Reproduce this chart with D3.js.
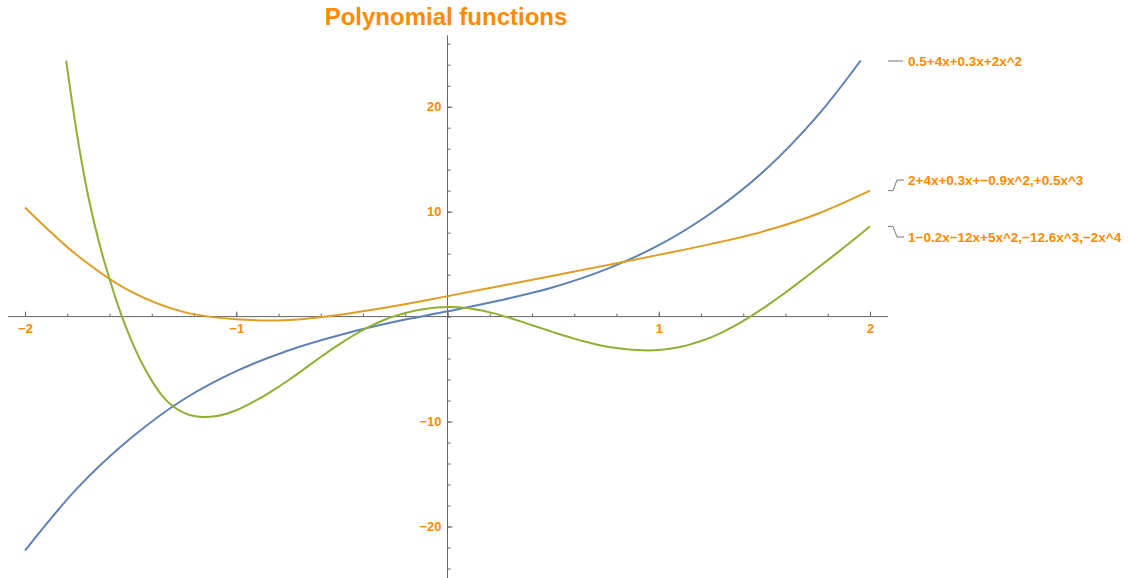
<!DOCTYPE html>
<html>
<head>
<meta charset="utf-8">
<script src="https://cdn.jsdelivr.net/npm/d3@7"></script>
<style>
  body { margin: 0; background: #fff; }
  text { font-family: "Liberation Sans", Arial, sans-serif; font-weight: bold; fill: #ff8a00; }
</style>
</head>
<body>
<svg width="1129" height="578"></svg>
<script>
// values
const blueX = [-2, -1.75, -1.5, -1.25, -1, -0.75, -0.5, -0.25, 0, 0.25, 0.5, 0.75, 1, 1.25, 1.5, 1.75, 1.956];
const blueY = [-22.3, -16.3, -11.6, -7.9, -5.2, -3.2, -1.7, -0.5, 0.5, 1.55, 2.8, 4.5, 6.8, 9.9, 13.9, 19.1, 24.4];

const orangeX = [-2, -1.75, -1.5, -1.25, -1, -0.75, -0.5, -0.25, 0, 0.25, 0.5, 0.75, 1, 1.25, 1.5, 1.75, 2];
const orangeY = [10.4, 5.8, 2.4, 0.45, -0.26, -0.32, 0.2, 1.0, 1.95, 2.92, 3.9, 4.88, 5.88, 6.93, 8.15, 9.78, 12.0];

const greenX = [-1.805, -1.75, -1.7, -1.65, -1.6, -1.55, -1.5, -1.45, -1.4, -1.35, -1.3, -1.25, -1.2, -1.15, -1.1, -1.05,
                -1.0, -0.95, -0.9, -0.85, -0.8, -0.75, -0.7, -0.65, -0.6, -0.55, -0.5, -0.45, -0.4, -0.35, -0.3, -0.25,
                -0.2, -0.15, -0.1, -0.05, 0, 0.05, 0.1, 0.15, 0.2, 0.25, 0.3, 0.35, 0.4, 0.45, 0.5, 0.55, 0.6, 0.65,
                0.7, 0.75, 0.8, 0.85, 0.9, 0.95, 1.0, 1.05, 1.1, 1.15, 1.2, 1.25, 1.3, 1.35, 1.4, 1.45, 1.5, 1.55,
                1.6, 1.65, 1.7, 1.75, 1.8, 1.85, 1.9, 1.95, 2.0];
const greenY = [24.4, 16.9, 11.4, 7.1, 3.6, 0.5, -2.1, -4.3, -6.1, -7.55, -8.55, -9.15, -9.48, -9.57, -9.5, -9.28,
                -8.92, -8.45, -7.92, -7.33, -6.7, -6.02, -5.31, -4.58, -3.85, -3.15, -2.48, -1.85, -1.27, -0.76, -0.32, 0.05,
                0.35, 0.58, 0.75, 0.86, 0.92, 0.9, 0.8, 0.62, 0.4, 0.14, -0.16, -0.48, -0.82, -1.15, -1.48, -1.8, -2.1, -2.38,
                -2.63, -2.84, -3.0, -3.12, -3.19, -3.22, -3.18, -3.07, -2.9, -2.65, -2.33, -1.95, -1.5, -0.98, -0.4, 0.22, 0.88, 1.58,
                2.3, 3.05, 3.82, 4.6, 5.38, 6.17, 6.97, 7.78, 8.6];

const labels = ["0.5+4x+0.3x+2x^2", "2+4x+0.3x+\u22120.9x^2,+0.5x^3", "1\u22120.2x\u221212x+5x^2,\u221212.6x^3,\u22122x^4"];
const colors = ["#5e81b5", "#e19c24", "#8fb032"];

const xMajor = [-2, -1, 0, 1, 2];
const xMinor = d3.range(-2, 2.001, 0.2);
const yMajor = [-20, -10, 10, 20];
const yMinor = d3.range(-24, 26.1, 2);

const svg = d3.select("svg");

const x = d3.scaleLinear().domain([-2, 2]).range([25, 870]);
const y = d3.scaleLinear().domain([-20, 20]).range([526.5, 106.7]);

// title
svg.append("text")
    .attr("x", 446)
    .attr("y", 25)
    .attr("text-anchor", "middle")
    .style("font-size", "24px")
    .text("Polynomial functions");

// axis lines
const axisColor = "#666";
svg.append("line")
    .attr("x1", x(-2.08)).attr("x2", x(2.085))
    .attr("y1", y(0)).attr("y2", y(0))
    .attr("stroke", axisColor);
svg.append("line")
    .attr("x1", x(0)).attr("x2", x(0))
    .attr("y1", y(26.8)).attr("y2", y(-25.2))
    .attr("stroke", axisColor);

// x ticks (upward)
const gx = svg.append("g").attr("transform", `translate(0,${y(0)})`);
gx.append("g")
    .call(d3.axisBottom(x).tickValues(xMinor).tickSize(-3).tickFormat(""))
    .call(g => g.select(".domain").remove());
gx.append("g")
    .call(d3.axisBottom(x).tickValues(xMajor).tickSize(-5).tickPadding(7)
        .tickFormat(d => d === 0 ? "" : d3.format("d")(d)))
    .call(g => g.select(".domain").remove());
gx.selectAll("line").attr("stroke", axisColor);
gx.selectAll("text").style("font-size", "13px").attr("fill", "#ff8a00");

// y ticks (to the right)
const gy = svg.append("g").attr("transform", `translate(${x(0)},0)`);
gy.append("g")
    .call(d3.axisLeft(y).tickValues(yMinor).tickSize(-3).tickFormat(""))
    .call(g => g.select(".domain").remove());
gy.append("g")
    .call(d3.axisLeft(y).tickValues(yMajor).tickSize(-5).tickPadding(6))
    .call(g => g.select(".domain").remove());
gy.selectAll("line").attr("stroke", axisColor);
gy.selectAll("text").style("font-size", "13px").attr("fill", "#ff8a00");

// curves
const line = d3.line()
    .x(d => x(d[0]))
    .y(d => y(d[1]))
    .curve(d3.curveCatmullRom.alpha(0.5));

const series = [
    d3.zip(blueX, blueY),
    d3.zip(orangeX, orangeY),
    d3.zip(greenX, greenY)
];

series.forEach((s, i) => {
    svg.append("path")
        .datum(s)
        .attr("fill", "none")
        .attr("stroke", colors[i])
        .attr("stroke-width", 2)
        .attr("d", line);
});

// labels with connectors
const lx = 888;
const labelY = [61, 180, 237];
series.forEach((s, i) => {
    const endY = y(s[s.length - 1][1]);
    const ty = labelY[i];
    const dy = ty - endY;
    const path = Math.abs(dy) < 2
        ? `M${lx},${ty}H${lx + 15}`
        : `M${lx},${endY}H${lx + 5}L${lx + 9},${ty}H${lx + 16}`;
    svg.append("path")
        .attr("d", path)
        .attr("fill", "none")
        .attr("stroke", "#777")
        .attr("stroke-width", 1);
    svg.append("text")
        .attr("x", lx + 20)
        .attr("y", ty)
        .attr("dy", "0.35em")
        .style("font-size", "13.5px")
        .text(labels[i]);
});
</script>
</body>
</html>
